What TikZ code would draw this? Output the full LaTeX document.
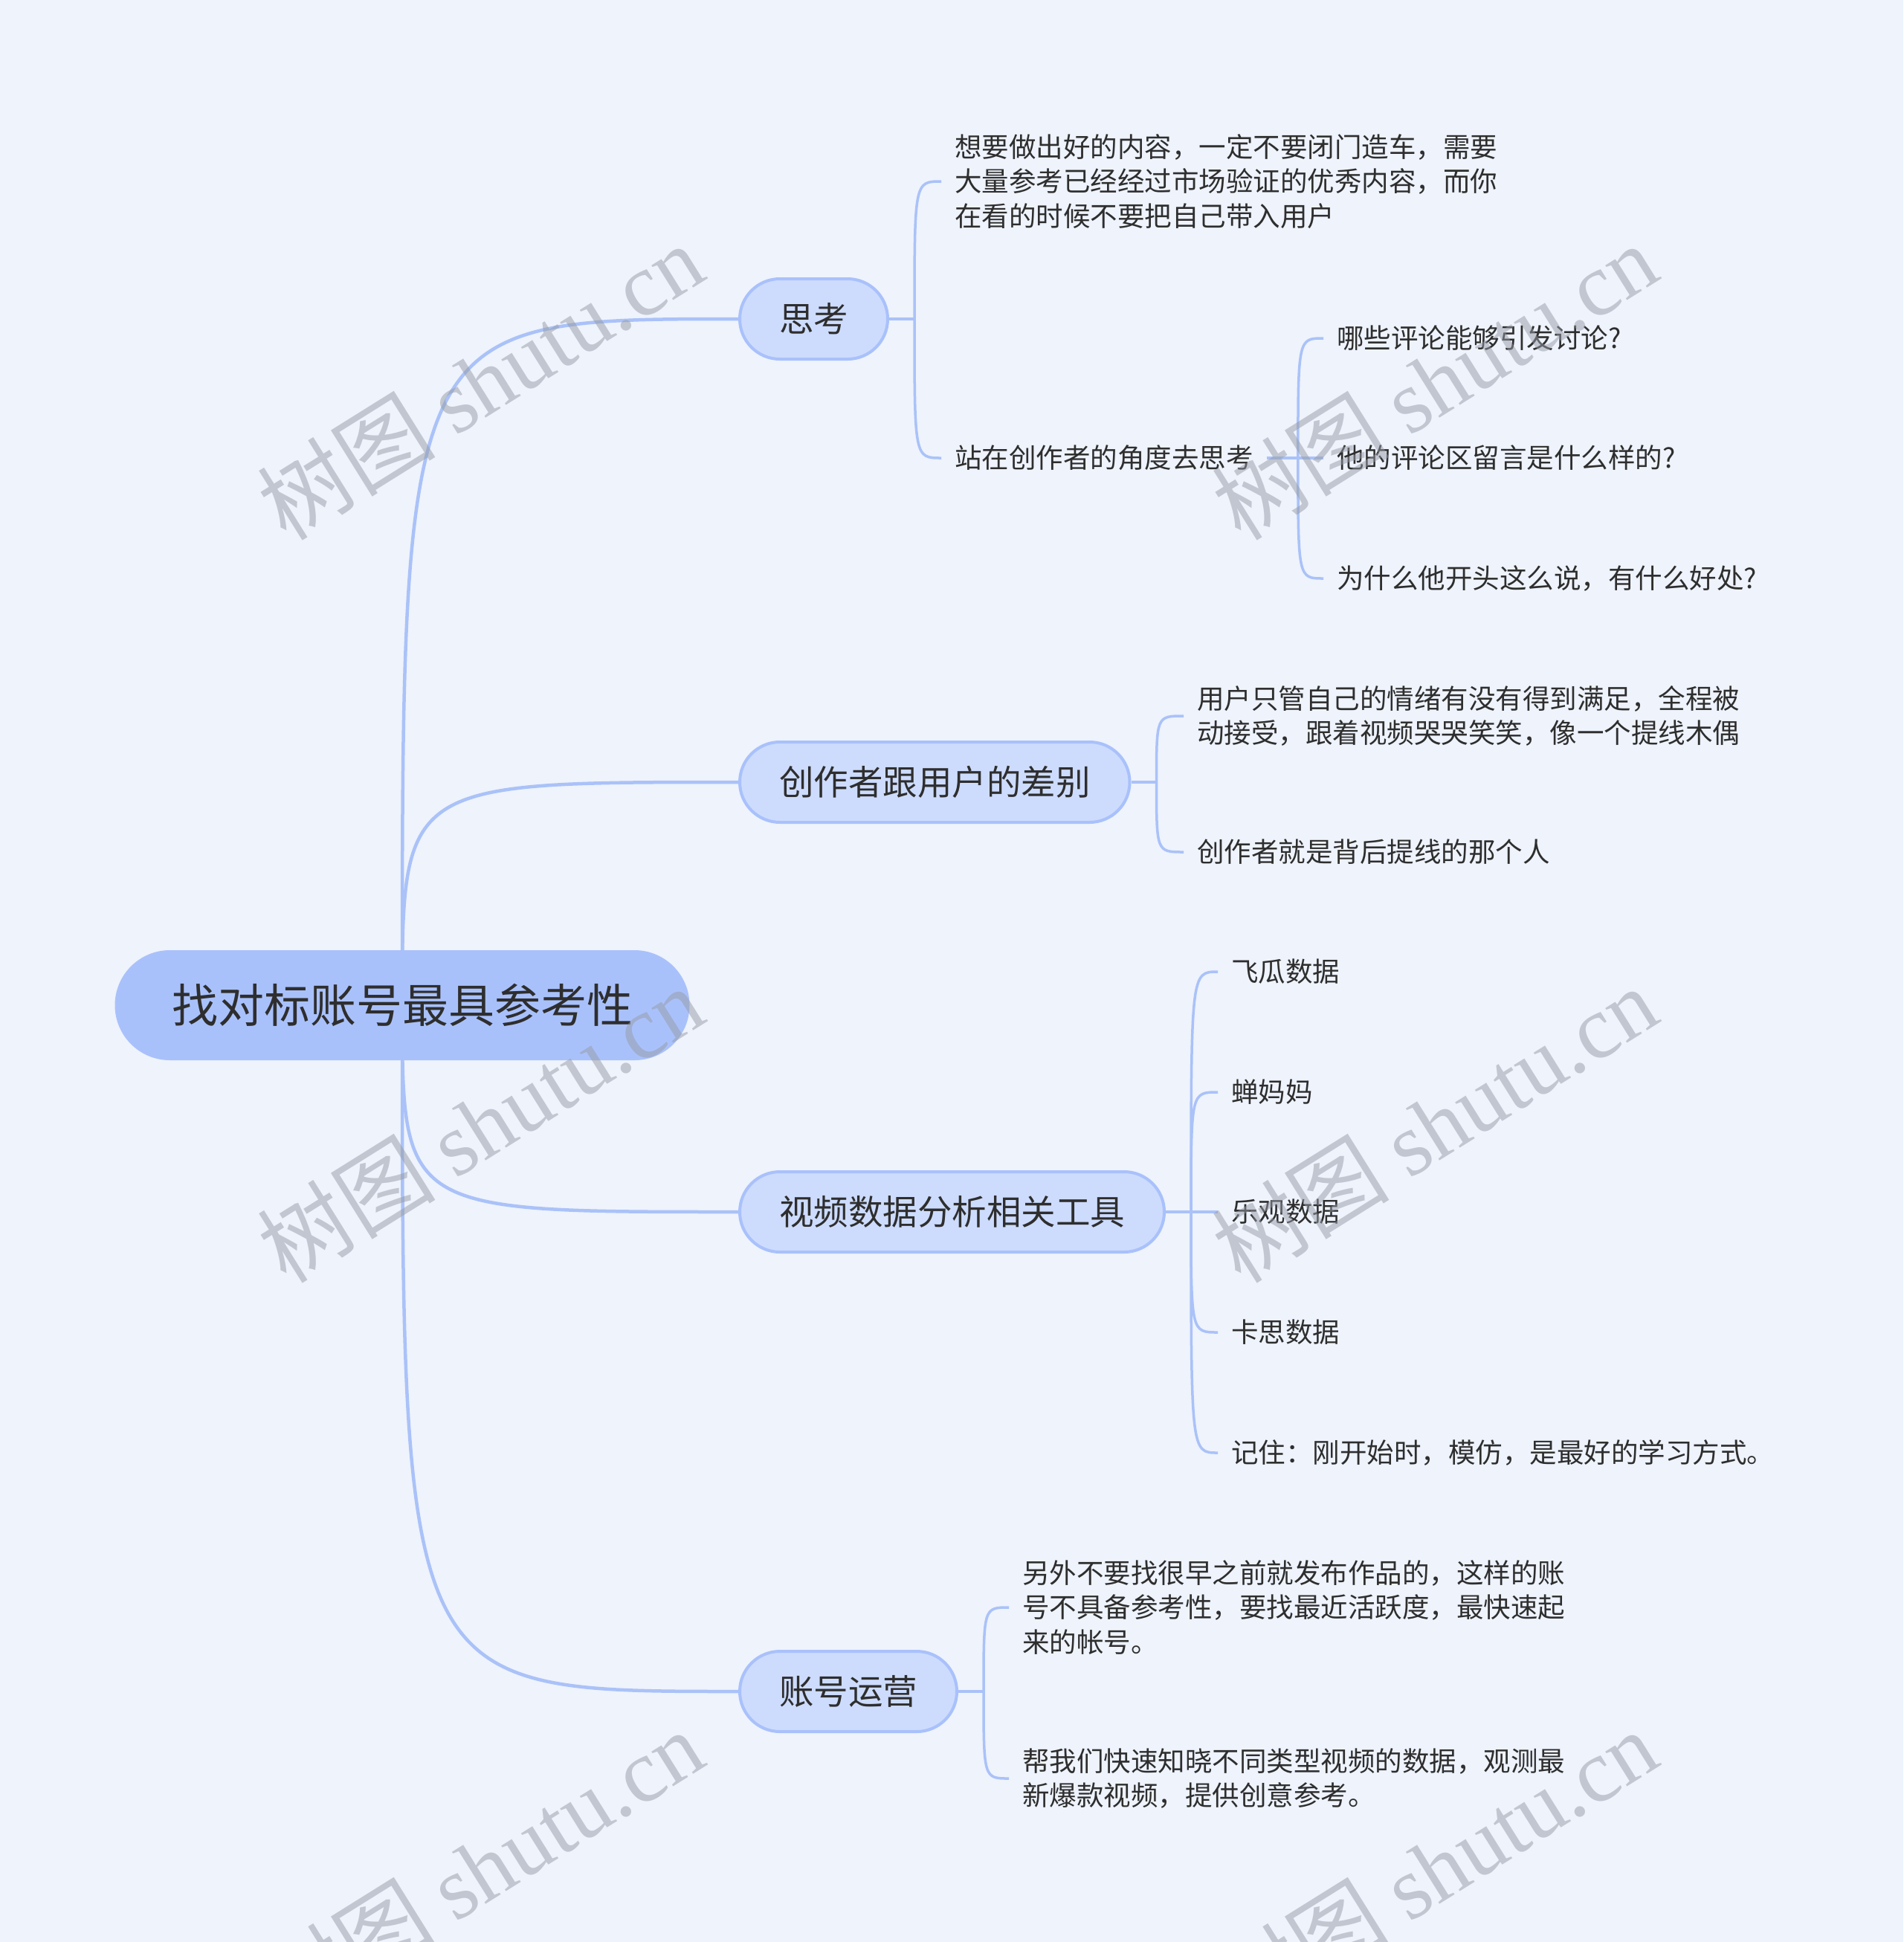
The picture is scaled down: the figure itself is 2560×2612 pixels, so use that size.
\documentclass[tikz,border=0pt]{standalone}
\usepackage{fontspec}
\setmainfont{Noto Sans CJK SC}
\newfontfamily\wmlatin{Liberation Serif}
\usetikzlibrary{backgrounds}
\definecolor{bgc}{RGB}{238,243,252}
\definecolor{rootc}{RGB}{169,193,251}
\definecolor{branchc}{RGB}{205,220,253}
\definecolor{linec}{RGB}{170,194,248}
\definecolor{txt}{RGB}{46,46,46}
\definecolor{wmc}{RGB}{150,155,165}
\begin{document}
\begin{tikzpicture}[x=1pt,y=-1pt,
  rootnode/.style={fill=rootc, rounded corners=74pt, minimum height=148pt, minimum width=773pt, inner sep=0pt, text=txt, font=\fontsize{62}{70}\selectfont},
  branchnode/.style={anchor=west, fill=branchc, draw=rootc, line width=4pt, rounded corners=54pt, minimum height=108pt, inner xsep=53pt, inner ysep=0pt, text=txt, font=\fontsize{46.5}{54}\selectfont},
  leafnode/.style={anchor=west, inner xsep=18pt, inner ysep=0pt, align=left, text=txt, font=\fontsize{36.5}{46.6}\selectfont},
  mainlink/.style={draw=linec, line width=4.5pt},
  sublink/.style={draw=linec, line width=3.5pt},
  wm/.style={text=wmc, opacity=0.5, rotate=32, inner sep=0pt, font=\fontsize{120}{130}\selectfont}]
\useasboundingbox (0,0) rectangle (2560,2612);

\node[rootnode] (root) at (541,1352) {找对标账号最具参考性};
\node[branchnode] (b1) at (993,429) {思考};
\node[branchnode] (b2) at (993,1052) {创作者跟用户的差别};
\node[branchnode] (b3) at (993,1630) {视频数据分析相关工具};
\node[branchnode] (b4) at (993,2275) {账号运营};

\node[leafnode] (l1) at (1266,244) {想要做出好的内容，一定不要闭门造车，需要\\大量参考已经经过市场验证的优秀内容，而你\\在看的时候不要把自己带入用户};
\node[leafnode] (l2) at (1266,616) {站在创作者的角度去思考};
\node[leafnode] (l2a) at (1780,455) {哪些评论能够引发讨论?};
\node[leafnode] (l2b) at (1780,616) {他的评论区留言是什么样的?};
\node[leafnode] (l2c) at (1780,778) {为什么他开头这么说，有什么好处?};

\node[leafnode] (c1) at (1592,963) {用户只管自己的情绪有没有得到满足，全程被\\动接受，跟着视频哭哭笑笑，像一个提线木偶};
\node[leafnode] (c2) at (1592,1146) {创作者就是背后提线的那个人};

\node[leafnode] (v1) at (1638,1307) {飞瓜数据};
\node[leafnode] (v2) at (1638,1469) {蝉妈妈};
\node[leafnode] (v3) at (1638,1630) {乐观数据};
\node[leafnode] (v4) at (1638,1792) {卡思数据};
\node[leafnode] (v5) at (1638,1954) {记住：刚开始时，模仿，是最好的学习方式。};

\node[leafnode] (a1) at (1357,2162) {另外不要找很早之前就发布作品的，这样的账\\号不具备参考性，要找最近活跃度，最快速起\\来的帐号。};
\node[leafnode] (a2) at (1357,2392) {帮我们快速知晓不同类型视频的数据，观测最\\新爆款视频，提供创意参考。};

\begin{scope}[on background layer]
  \fill[bgc] (0,0) rectangle (2560,2612);
  \foreach \xx in {b1,b2,b3,b4}
    \draw[mainlink] (root.center) .. controls (root.center |- \xx.west) .. (\xx.west);
  \draw[sublink] (b1.east) -- ++(34,0) coordinate (j1);
  \foreach \xx in {l1,l2}
    \draw[sublink] (j1) .. controls (j1 |- \xx.west) .. (\xx.west);
  \draw[sublink] (l2.east) -- ++(42,0) coordinate (j2);
  \foreach \xx in {l2a,l2b,l2c}
    \draw[sublink] (j2) .. controls (j2 |- \xx.west) .. (\xx.west);
  \draw[sublink] (b2.east) -- ++(34,0) coordinate (j3);
  \foreach \xx in {c1,c2}
    \draw[sublink] (j3) .. controls (j3 |- \xx.west) .. (\xx.west);
  \draw[sublink] (b3.east) -- ++(34,0) coordinate (j4);
  \foreach \xx in {v1,v2,v3,v4,v5}
    \draw[sublink] (j4) .. controls (j4 |- \xx.west) .. (\xx.west);
  \draw[sublink] (b4.east) -- ++(34,0) coordinate (j5);
  \foreach \xx in {a1,a2}
    \draw[sublink] (j5) .. controls (j5 |- \xx.west) .. (\xx.west);
\end{scope}

\foreach \wx/\wy in {646/513, 1929/513, 646/1512, 1929/1512, 646/2512, 1929/2512}
  \node[wm] (wm-\wx-\wy) at (\wx,\wy) {树图 {\wmlatin shutu.cn}};
\end{tikzpicture}
\end{document}
